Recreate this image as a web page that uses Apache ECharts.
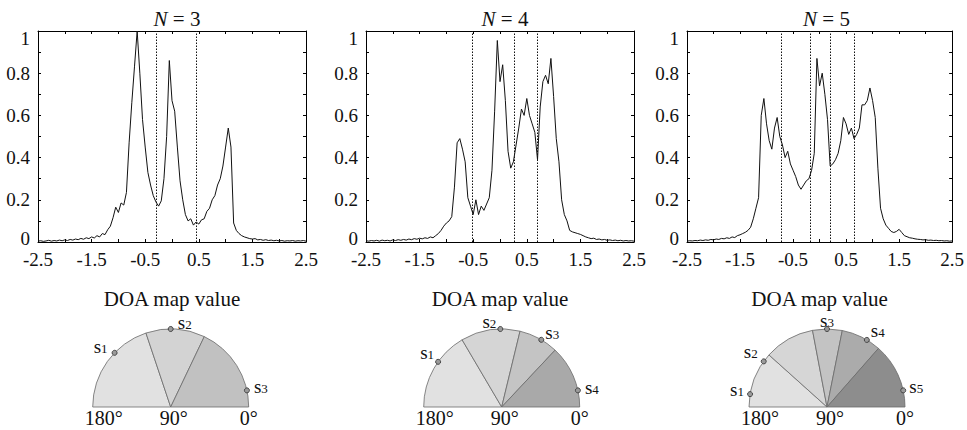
<!DOCTYPE html>
<html>
<head>
<meta charset="utf-8">
<script src="https://cdn.jsdelivr.net/npm/echarts@6/dist/echarts.min.js"></script>
<style>html,body{margin:0;padding:0;background:#fff}#c{width:967px;height:430px}</style>
</head>
<body>
<div id="c"></div>
<script>
// ---------- data ----------
const panelN = [3, 4, 5];
const xTickLabels = ['-2.5', '-1.5', '-0.5', '0.5', '1.5', '2.5'];
const yTickLabels = ['0', '0.2', '0.4', '0.6', '0.8', '1'];
const axisName = 'DOA map value';
const degLabels = ['180°', '90°', '0°'];

// sample positions of the DOA map curves
const xs = [-2.5,-2.45,-2.4,-2.35,-2.3,-2.25,-2.2,-2.15,-2.1,-2.05,-2,-1.95,-1.9,-1.85,-1.8,-1.75,-1.7,-1.65,-1.6,-1.55,
-1.5,-1.45,-1.4,-1.35,-1.3,-1.25,-1.2,-1.15,-1.1,-1.05,-1,-0.95,-0.9,-0.85,-0.8,-0.75,-0.7,-0.65,-0.6,-0.55,
-0.5,-0.45,-0.4,-0.35,-0.3,-0.25,-0.2,-0.15,-0.1,-0.05,0,0.05,0.1,0.15,0.2,0.25,0.3,0.35,0.4,0.45,
0.5,0.55,0.6,0.65,0.7,0.75,0.8,0.85,0.9,0.95,1,1.05,1.1,1.15,1.2,1.25,1.3,1.35,1.4,1.45,
1.5,1.55,1.6,1.65,1.7,1.75,1.8,1.85,1.9,1.95,2,2.05,2.1,2.15,2.2,2.25,2.3,2.35,2.4,2.45,2.5];

const doa3 = [0.004,0.006,0.003,0.005,0.008,0.004,0.007,0.005,0.009,0.006,0.010,0.007,0.012,0.009,0.014,0.011,0.017,0.013,0.020,0.016,
0.024,0.019,0.030,0.024,0.040,0.035,0.058,0.075,0.115,0.165,0.140,0.185,0.175,0.235,0.470,0.660,0.830,1.000,0.800,0.580,
0.450,0.330,0.270,0.220,0.190,0.170,0.195,0.300,0.500,0.860,0.670,0.620,0.450,0.290,0.200,0.130,0.100,0.110,0.080,0.095,
0.085,0.105,0.110,0.145,0.160,0.200,0.220,0.270,0.300,0.360,0.450,0.540,0.450,0.090,0.055,0.040,0.030,0.024,0.020,0.016,
0.014,0.016,0.010,0.012,0.008,0.011,0.007,0.009,0.006,0.008,0.005,0.007,0.004,0.006,0.005,0.007,0.004,0.006,0.005,0.007,0.004];

const doa4 = [0.006,0.004,0.007,0.005,0.008,0.004,0.009,0.006,0.008,0.005,0.010,0.007,0.011,0.008,0.012,0.009,0.014,0.011,0.016,0.013,
0.018,0.015,0.020,0.017,0.024,0.020,0.030,0.040,0.055,0.075,0.090,0.100,0.120,0.260,0.470,0.490,0.440,0.380,0.210,0.170,
0.130,0.200,0.130,0.170,0.150,0.180,0.210,0.340,0.620,0.955,0.760,0.840,0.670,0.430,0.350,0.380,0.460,0.540,0.630,0.600,
0.680,0.600,0.560,0.520,0.390,0.640,0.760,0.790,0.750,0.870,0.690,0.490,0.380,0.200,0.130,0.100,0.055,0.048,0.044,0.040,
0.036,0.030,0.024,0.020,0.016,0.018,0.012,0.014,0.010,0.012,0.008,0.010,0.007,0.009,0.006,0.008,0.005,0.007,0.005,0.006,0.004];

const doa5 = [0.004,0.006,0.005,0.007,0.006,0.009,0.007,0.010,0.008,0.012,0.010,0.014,0.012,0.017,0.015,0.020,0.017,0.024,0.021,0.030,
0.034,0.040,0.046,0.055,0.070,0.110,0.160,0.210,0.600,0.680,0.560,0.480,0.440,0.540,0.590,0.500,0.460,0.400,0.430,0.370,
0.340,0.310,0.270,0.250,0.270,0.290,0.300,0.340,0.420,0.870,0.740,0.800,0.700,0.580,0.360,0.370,0.390,0.420,0.480,0.590,
0.560,0.510,0.540,0.490,0.510,0.540,0.650,0.650,0.670,0.730,0.670,0.590,0.350,0.160,0.110,0.080,0.065,0.050,0.045,0.050,
0.060,0.045,0.030,0.025,0.020,0.018,0.015,0.013,0.012,0.010,0.011,0.008,0.009,0.007,0.008,0.006,0.007,0.005,0.006,0.004,0.005];

// dotted separators (DOA map values)
const sep3 = [-0.30, 0.46];
const sep4 = [-0.52, 0.255, 0.685];
const sep5 = [-0.73, -0.17, 0.21, 0.655];

// sector boundaries of the half circles (degrees)
const bounds3 = [180, 108.5, 64.5, 0];
const bounds4 = [180, 120.5, 76.4, 46.8, 0];
const bounds5 = [180, 138.1, 100.7, 78.7, 48.7, 0];
// source directions (degrees)
const src3 = [136, 90, 12.3];
const src4 = [144.6, 91, 59.5, 12.3];
const src5 = [170.5, 144.2, 90, 59.3, 12.3];

// ---------- styling / layout ----------
const FONT = 'Liberation Serif';
const grids = [
  {left: 38, top: 31, width: 268, height: 211},
  {left: 366, top: 31, width: 268, height: 211},
  {left: 687, top: 31, width: 269, height: 211}
];
const halfCenters = [[170.7, 407], [501.7, 407], [827, 407]];
const halfR = 78;
const sectorColors = [
  ['#e1e1e1', '#d3d3d3', '#c1c1c1'],
  ['#e1e1e1', '#d5d5d5', '#c4c4c4', '#a9a9a9'],
  ['#e1e1e1', '#d6d6d6', '#c3c3c3', '#ababab', '#8d8d8d']
];
const labelOffsets = [
  [[-14, -7], [14, -7], [14, -4]],
  [[-11, -10], [-11, -8], [11, -8], [14, -3]],
  [[-13, -5], [-13, -10], [0, -9], [11, -10], [13, -4]]
];

const curves = [doa3, doa4, doa5];
const seps = [sep3, sep4, sep5];
const bounds = [bounds3, bounds4, bounds5];
const srcs = [src3, src4, src5];

const xAxes = [], yAxes = [], series = [], titles = [], polars = [], angleAxes = [], radiusAxes = [], graphics = [];

function xFmt(v) {
  const k = Math.round(v * 2);
  if (Math.abs(k) % 2 !== 1) return '';
  return xTickLabels[(k + 5) / 2];
}
function yFmt(v) {
  const k = Math.round(v * 10);
  if (k % 2 !== 0) return '';
  if (k === 10) return '{top|' + yTickLabels[5] + '}';
  if (k === 0) return '{bot|' + yTickLabels[0] + '}';
  return yTickLabels[k / 2];
}

panelN.forEach((n, i) => {
  const g = grids[i];
  const base = {
    gridIndex: i, type: 'value', min: -2.5, max: 2.5, interval: 0.5,
    axisLine: {show: true, onZero: false, lineStyle: {color: '#000', width: 1}},
    axisTick: {show: true, inside: true, length: 3, lineStyle: {color: '#000', width: 1}},
    splitLine: {show: false}
  };
  xAxes.push(Object.assign({}, base, {
    position: 'bottom',
    axisLabel: {show: true, formatter: xFmt, color: '#111', fontFamily: FONT, fontSize: 19, lineHeight: 14, margin: 10},
    name: axisName, nameLocation: 'middle', nameGap: 46,
    nameTextStyle: {color: '#111', fontFamily: FONT, fontSize: 21}
  }));
  xAxes.push(Object.assign({}, base, {position: 'top', axisLabel: {show: false}}));
  const ybase = {
    gridIndex: i, type: 'value', min: 0, max: 1, interval: 0.1,
    axisLine: {show: true, onZero: false, lineStyle: {color: '#000', width: 1}},
    axisTick: {show: true, inside: true, length: 3, lineStyle: {color: '#000', width: 1}},
    splitLine: {show: false}
  };
  yAxes.push(Object.assign({}, ybase, {
    position: 'left',
    axisLabel: {show: true, formatter: yFmt, color: '#111', fontFamily: FONT, fontSize: 19, lineHeight: 14, margin: 8,
      rich: {
        top: {fontFamily: FONT, fontSize: 19, lineHeight: 14, color: '#111', padding: [14, 0, 0, 0]},
        bot: {fontFamily: FONT, fontSize: 19, lineHeight: 14, color: '#111', padding: [0, 0, 7, 0]}
      }}
  }));
  yAxes.push(Object.assign({}, ybase, {position: 'right', axisLabel: {show: false}}));

  titles.push({
    text: '{it|N}{n| = ' + n + '}',
    left: g.left + g.width / 2, top: 3, textAlign: 'center',
    textStyle: {fontWeight: 'normal', rich: {
      it: {fontFamily: FONT, fontStyle: 'italic', fontWeight: 'normal', fontSize: 21, color: '#111'},
      n: {fontFamily: FONT, fontWeight: 'normal', fontSize: 21, color: '#111'}
    }}
  });

  series.push({
    type: 'line', xAxisIndex: 2 * i, yAxisIndex: 2 * i,
    data: xs.map((x, j) => [x, curves[i][j]]),
    showSymbol: false, symbol: 'none', silent: true,
    lineStyle: {color: '#111', width: 1},
    markLine: {
      silent: true, symbol: 'none', label: {show: false},
      lineStyle: {color: '#111', type: [1.5, 1.5], width: 1},
      data: seps[i].map(v => ({xAxis: v}))
    },
    animation: false
  });

  // half-circle sectors
  const b = bounds[i];
  const pieData = [];
  for (let k = 0; k < b.length - 1; k++) {
    pieData.push({value: b[k] - b[k + 1], itemStyle: {color: sectorColors[i][k]}});
  }
  pieData.push({value: 180, itemStyle: {color: 'rgba(0,0,0,0)', borderWidth: 0}});
  series.push({
    type: 'pie', center: halfCenters[i], radius: [0, halfR],
    startAngle: 180, clockwise: true, silent: true, animation: false,
    label: {show: false}, labelLine: {show: false}, minAngle: 0,
    avoidLabelOverlap: false,
    itemStyle: {borderColor: '#6a6a6a', borderWidth: 0.8},
    emphasis: {disabled: true},
    data: pieData
  });

  polars.push({center: halfCenters[i], radius: halfR});
  angleAxes.push({polarIndex: i, type: 'value', min: 0, max: 360, startAngle: 0, clockwise: false, show: false});
  radiusAxes.push({polarIndex: i, type: 'value', min: 0, max: 1, show: false});

  series.push({
    type: 'scatter', coordinateSystem: 'polar', polarIndex: i,
    symbol: 'circle', symbolSize: 5, silent: true, animation: false,
    itemStyle: {color: '#9a9a9a', borderColor: '#444', borderWidth: 1, opacity: 1},
    data: srcs[i].map((a, k) => ({
      value: [1, a],
      label: {
        show: true, position: 'inside', offset: labelOffsets[i][k],
        formatter: '{s|s}{d|' + (k + 1) + '}',
        rich: {
          s: {fontFamily: FONT, fontSize: 19, color: '#111', lineHeight: 18, verticalAlign: 'top', padding: [0, 0, 6, 0]},
          d: {fontFamily: FONT, fontSize: 13, color: '#111', lineHeight: 13, verticalAlign: 'bottom'}
        }
      }
    }))
  });

  const c = halfCenters[i];
  const dx = [-67, 3, 78];
  degLabels.forEach((t, k) => {
    graphics.push({
      type: 'text', x: c[0] + dx[k], y: c[1] + 11,
      style: {text: t, fill: '#111', font: '20px "' + FONT + '"', textAlign: 'center', textVerticalAlign: 'middle'},
      silent: true
    });
  });
});

const chart = echarts.init(document.getElementById('c'), null, {renderer: 'svg'});
chart.setOption({
  animation: false,
  backgroundColor: '#fff',
  title: titles,
  grid: grids,
  xAxis: xAxes,
  yAxis: yAxes,
  polar: polars,
  angleAxis: angleAxes,
  radiusAxis: radiusAxes,
  series: series,
  graphic: graphics
});
</script>
</body>
</html>
